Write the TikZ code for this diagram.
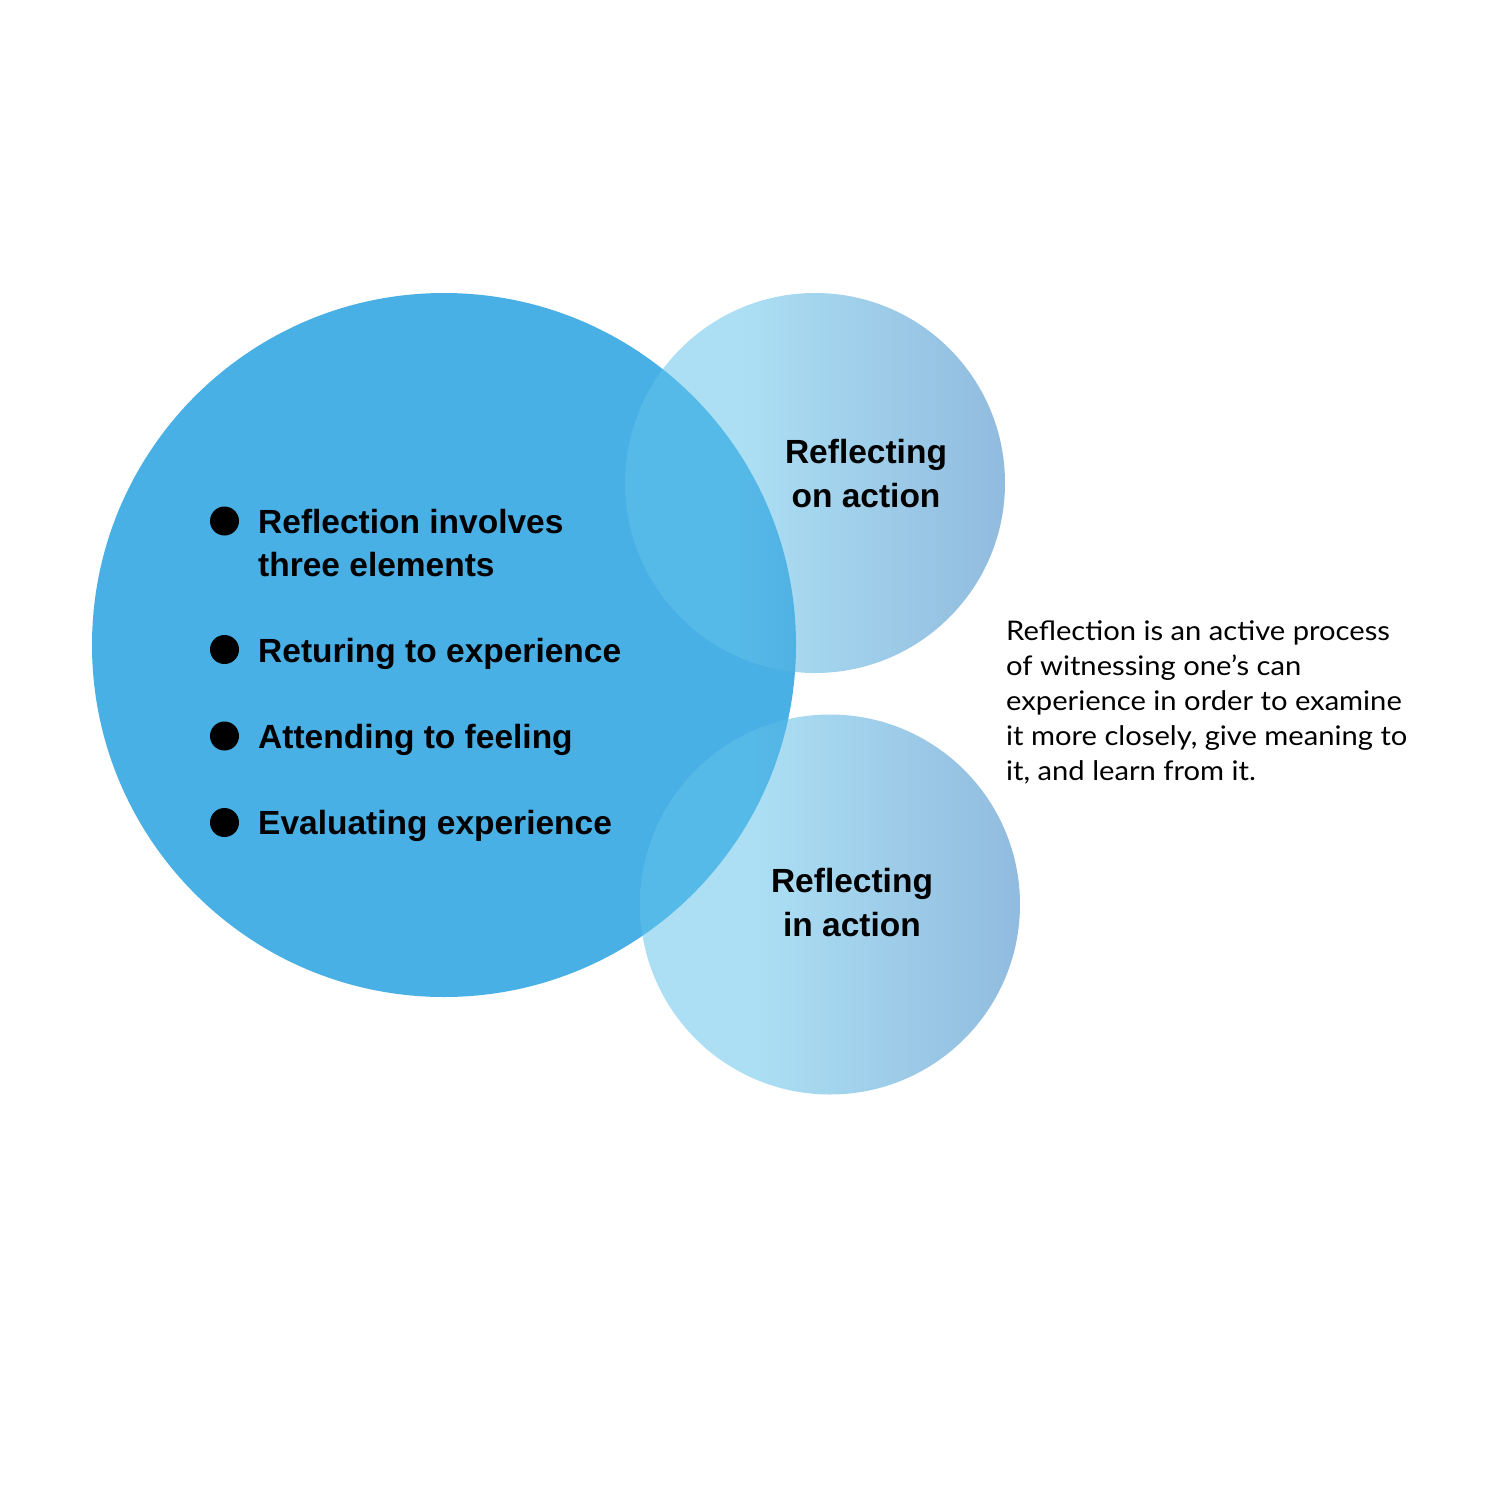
\documentclass[tikz,border=0pt]{standalone}
\usepackage{fontspec}
\setmainfont{Liberation Sans}
\newfontfamily\lightfont[FakeStretch=1.08]{Lato}
\definecolor{bigblue}{HTML}{49B0E6}
\definecolor{lightc}{HTML}{62C3EA}
\definecolor{darkc}{HTML}{2E7FC1}
\pgfdeclarehorizontalshading{smallgrad}{100bp}{color(0bp)=(lightc); color(40bp)=(lightc); color(75bp)=(darkc); color(100bp)=(darkc)}
\tikzset{
  smallcirc/.style={circle, minimum size=380pt, inner sep=0pt, shading=smallgrad, fill opacity=0.53},
  bigcirc/.style={circle, minimum size=704pt, inner sep=0pt, fill=bigblue},
  bulletdot/.style={circle, fill=black, minimum size=29pt, inner sep=0pt},
  itemtext/.style={anchor=base west, inner sep=0pt, align=left, font=\bfseries\fontsize{33.5}{43}\selectfont},
  circlabel/.style={anchor=base, inner sep=0pt, align=center, font=\bfseries\fontsize{33.5}{44}\selectfont},
  bodytext/.style={anchor=base west, inner sep=0pt, align=left, font=\lightfont\fontsize{27}{35}\selectfont}
}
\begin{document}
\begin{tikzpicture}[x=1pt,y=-1pt]
\useasboundingbox (0,0) rectangle (1500,1500);
\node[bigcirc] (big) at (444,645) {};
\node[smallcirc] (top) at (815,483) {};
\node[smallcirc] (bot) at (830,904.5) {};
\node[bulletdot] (b1) at (224.5,521) {};
\node[bulletdot] (b2) at (224.5,649.5) {};
\node[bulletdot] (b3) at (224.5,736) {};
\node[bulletdot] (b4) at (224.5,822.5) {};
\node[itemtext] (t1) at (258,576) {Reflection involves\\three elements};
\node[itemtext] (t2) at (258,662) {Returing to experience};
\node[itemtext] (t3) at (258,748) {Attending to feeling};
\node[itemtext] (t4) at (258,834) {Evaluating experience};
\node[circlabel] (l1) at (866,507) {Reflecting\\on action};
\node[circlabel] (l2) at (852,936) {Reflecting\\in action};
\node[bodytext] (desc) at (1006,780) {Reflection is an active process\\of witnessing one’s can\\experience in order to examine\\it more closely, give meaning to\\it, and learn from it.};
\end{tikzpicture}
\end{document}
